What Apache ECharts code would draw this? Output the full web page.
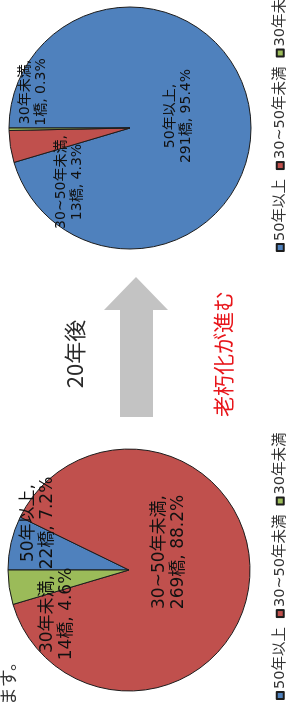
<!DOCTYPE html>
<html>
<head>
<meta charset="utf-8">
<script src="https://cdn.jsdelivr.net/npm/echarts@6/dist/echarts.min.js"></script>
<style>
  html, body { margin: 0; padding: 0; width: 287px; height: 711px; overflow: hidden; background: #fff; }
  /* the source page is turned a quarter turn, so the chart is drawn landscape and rotated */
  #chart {
    position: absolute; left: 0; top: 0;
    width: 711px; height: 287px;
    transform-origin: 0 0;
    transform: translate(0, 711px) rotate(-90deg);
  }
</style>
</head>
<body>
<div id="chart"></div>
<script>
const categories = ['50年以上', '30~50年未満', '30年未満']
const beforeCounts = [22, 269, 14]
const afterCounts = [291, 13, 1]
const colors = ['#4f81bd', '#c0504d', '#9bbb59']

const pieCenters = [[141, 129], [583, 130]]
// label offsets from each pie centre, as placed in the source
const labelOffsets = [
  [[47, -91], [18, 40], [-44, -72]],
  [[12, 48], [-54, -61], [36, -97]]
]
const labelFont = [17, 14]

const chart = echarts.init(document.getElementById('chart'))

function pieSeries(counts, i) {
  return {
    type: 'pie',
    center: pieCenters[i],
    radius: 121,
    startAngle: 90,
    clockwise: true,
    percentPrecision: 1,
    emphasis: { disabled: true },
    itemStyle: { borderColor: '#1c1c1c', borderWidth: 1 },
    label: {
      show: true,
      position: 'inside',
      formatter: '{b},\n{c}橋, {d}%',
      color: '#111',
      fontFamily: 'DejaVu Sans, Noto Sans CJK JP',
      fontSize: labelFont[i],
      lineHeight: labelFont[i] + 2,
      align: 'center',
      verticalAlign: 'middle'
    },
    labelLine: { show: false },
    labelLayout(params) {
      const o = labelOffsets[i][params.dataIndex]
      return { x: pieCenters[i][0] + o[0], y: pieCenters[i][1] + o[1] }
    },
    data: categories.map((name, k) => ({
      name,
      value: counts[k],
      itemStyle: { color: colors[k] }
    }))
  }
}

const legendBase = {
  orient: 'horizontal',
  top: 268,
  width: 320,
  icon: 'rect',
  itemWidth: 7,
  itemHeight: 7,
  itemGap: 9,
  selectedMode: false,
  data: categories,
  textStyle: { color: '#333', fontSize: 14.5, fontFamily: 'DejaVu Sans, Noto Sans CJK JP', padding: [0, 0, 0, -2] }
}

chart.setOption({
  animation: false,
  color: colors,
  legend: [
    Object.assign({}, legendBase, { left: 6 }),
    Object.assign({}, legendBase, { left: 454 })
  ],
  graphic: [
    {
      type: 'polygon',
      shape: {
        points: [[294, 120], [401, 120], [401, 104], [434, 136], [401, 168], [401, 153], [294, 153]]
      },
      style: { fill: '#c3c3c3' }
    },
    {
      type: 'text',
      x: 357, y: 75,
      style: {
        text: '20年後', fill: '#2a2a2a', fontSize: 22,
        fontFamily: 'Noto Sans CJK JP', textAlign: 'center', textVerticalAlign: 'middle'
      }
    },
    {
      type: 'text',
      x: 357, y: 223,
      style: {
        text: '老朽化が進む', fill: '#e8161b', fontSize: 21,
        fontFamily: 'Noto Sans CJK JP', textAlign: 'center', textVerticalAlign: 'middle'
      }
    },
    {
      type: 'text',
      x: 58, y: 17,
      style: {
        text: 'ます。', fill: '#333', fontSize: 18,
        fontFamily: 'Noto Sans CJK JP', textAlign: 'right', textVerticalAlign: 'bottom'
      }
    }
  ],
  series: [pieSeries(beforeCounts, 0), pieSeries(afterCounts, 1)]
})
</script>
</body>
</html>
